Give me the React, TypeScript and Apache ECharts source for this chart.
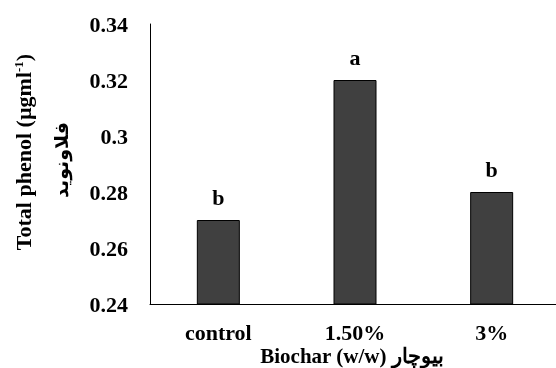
import React, { useEffect, useRef } from "react";
import * as echarts from "echarts";

const categories = ["control", "1.50%", "3%"];
const values = [0.27, 0.32, 0.28];
const letters = ["b", "a", "b"];
const yTicks = [0.24, 0.26, 0.28, 0.3, 0.32, 0.34];
const xTitle = "Biochar (w/w) بیوچار";

const FONT = "'Liberation Serif', 'Times New Roman', 'DejaVu Serif', serif";
const FS = 22;

export default function App() {
  const ref = useRef<HTMLDivElement>(null);
  useEffect(() => {
    if (!ref.current) return;
    const chart = echarts.init(ref.current, undefined, { renderer: "svg" });
    chart.setOption({
      animation: false,
      grid: {
        left: 150,
        right: -4,
        top: 24,
        bottom: 64,
        containLabel: false,
        outerBoundsMode: "none",
      },
      xAxis: {
        type: "category",
        data: categories,
        axisLine: { lineStyle: { color: "#000", width: 1 } },
        axisTick: { show: false },
        axisLabel: { color: "#000", fontFamily: FONT, fontWeight: "bold", fontSize: FS, margin: 17 },
      },
      yAxis: {
        type: "value",
        min: yTicks[0],
        max: yTicks[yTicks.length - 1],
        interval: 0.02,
        splitLine: { show: false },
        axisLine: { show: true, lineStyle: { color: "#000", width: 1 } },
        axisTick: { show: false },
        axisLabel: {
          color: "#000",
          fontFamily: FONT,
          fontWeight: "bold",
          fontSize: FS,
          margin: 22,
          formatter: (v: number) => String(parseFloat(v.toFixed(2))),
        },
      },
      graphic: [
        {
          type: "text",
          x: 352,
          y: 366,
          style: {
            text: xTitle,
            fontFamily: FONT,
            fontWeight: "bold",
            fontSize: 21,
            fill: "#000",
            align: "center",
            verticalAlign: "bottom",
          },
        },
        {
          type: "text",
          x: 23,
          y: 152,
          rotation: Math.PI / 2,
          style: {
            text: "{m|Total phenol (µgml}{s|-1}{m|)}",
            rich: {
              m: { fontFamily: FONT, fontWeight: "bold", fontSize: FS, fill: "#000" },
              s: { fontFamily: FONT, fontWeight: "bold", fontSize: 13, fill: "#000", verticalAlign: "top", padding: [0, 0, 10, 0] },
            },
            align: "center",
            verticalAlign: "middle",
          },
        },
        {
          type: "text",
          x: 61,
          y: 160,
          rotation: Math.PI / 2,
          style: {
            text: "فلاونوید",
            fontFamily: "'DejaVu Sans', sans-serif",
            fontWeight: "bold",
            fontSize: 19,
            fill: "#000",
            align: "center",
            verticalAlign: "middle",
          },
        },
      ],
      series: [
        {
          type: "bar",
          data: values,
          barWidth: 43,
          itemStyle: { color: "#404040", borderColor: "#000", borderWidth: 1 },
          label: {
            show: true,
            position: "top",
            distance: 12,
            color: "#000",
            fontFamily: FONT,
            fontWeight: "bold",
            fontSize: FS,
            formatter: (p: any) => letters[p.dataIndex],
          },
        },
      ],
    });
    return () => chart.dispose();
  }, []);
  return (
    <div
      ref={ref}
      style={{ position: "fixed", left: 0, top: 0, width: 556, height: 368 }}
    />
  );
}
